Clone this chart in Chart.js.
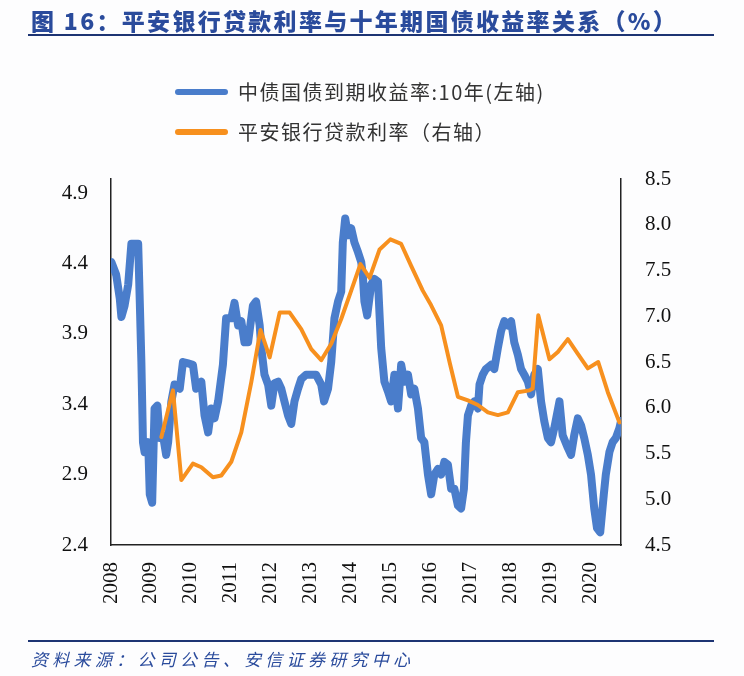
<!DOCTYPE html>
<html>
<head>
<meta charset="utf-8">
<script src="https://cdn.jsdelivr.net/npm/chart.js@4/dist/chart.umd.min.js"></script>
<style>
  html, body { margin: 0; padding: 0; background: #ffffff; }
  #wrap { position: relative; width: 744px; height: 676px; overflow: hidden; background: #fdfdfe; }
  #c { position: absolute; left: 0; top: 0; }
  #title { position: absolute; left: 31px; top: 5px; font-family: "Noto Sans CJK SC", sans-serif; font-weight: 900; font-size: 23px; letter-spacing: 2.3px; color: #2a4b9c; white-space: nowrap; line-height: 30px; }
  #tline { position: absolute; left: 28px; top: 34px; width: 686px; height: 2px; background: #1d3473; }
  #fline { position: absolute; left: 28px; top: 640px; width: 686px; height: 2px; background: #1d3473; }
  #source { position: absolute; left: 31px; top: 647px; font-family: "Noto Sans CJK SC", sans-serif; font-style: italic; font-size: 17px; letter-spacing: 4.3px; color: #2a4b9c; white-space: nowrap; line-height: 24px; }
  .leg { position: absolute; left: 175px; height: 30px; font-family: "Noto Sans CJK SC", sans-serif; font-size: 20px; letter-spacing: 1.5px; color: #333; white-space: nowrap; line-height: 30px; }
  .sw { position: absolute; left: 0; top: 12px; width: 53px; height: 6px; border-radius: 3px; }
  .lt { position: absolute; left: 63px; top: 0; }
</style>
</head>
<body>
<div id="wrap">
  <canvas id="c" width="744" height="676"></canvas>
  <div id="title">图 16：平安银行贷款利率与十年期国债收益率关系（%）</div>
  <div id="tline"></div>
  <div id="legend"></div>
  <div id="fline"></div>
  <div id="source">资料来源：公司公告、安信证券研究中心</div>
</div>
<script>
// ---- data ----
const seriesNames = ["中债国债到期收益率:10年(左轴)", "平安银行贷款利率（右轴）"];
const seriesColors = ["#4a7dcb", "#f7901e"];

const yearTicks = [2008, 2009, 2010, 2011, 2012, 2013, 2014, 2015, 2016, 2017, 2018, 2019, 2020];
const leftTicks = [2.4, 2.9, 3.4, 3.9, 4.4, 4.9];
const rightTicks = [4.5, 5.0, 5.5, 6.0, 6.5, 7.0, 7.5, 8.0, 8.5];

const bondDates = [
  2008.01, 2008.13, 2008.22, 2008.26, 2008.34, 2008.43, 2008.51, 2008.68, 2008.72, 2008.76,
  2008.80, 2008.84, 2008.93, 2008.97, 2009.03, 2009.09, 2009.16, 2009.22, 2009.30, 2009.38,
  2009.43, 2009.51, 2009.59, 2009.72, 2009.80, 2009.93, 2010.05, 2010.13, 2010.26, 2010.34,
  2010.43, 2010.51, 2010.59, 2010.68, 2010.80, 2010.88, 2011.01, 2011.09, 2011.18, 2011.26,
  2011.34, 2011.43, 2011.55, 2011.63, 2011.72, 2011.76, 2011.84, 2011.93, 2012.01, 2012.09,
  2012.18, 2012.26, 2012.34, 2012.43, 2012.51, 2012.59, 2012.68, 2012.76, 2012.88, 2013.01,
  2013.13, 2013.26, 2013.33, 2013.43, 2013.51, 2013.59, 2013.68, 2013.76, 2013.80, 2013.86,
  2013.93, 2014.01, 2014.09, 2014.18, 2014.26, 2014.30, 2014.34, 2014.41, 2014.51, 2014.59,
  2014.68, 2014.72, 2014.76, 2014.84, 2014.93, 2015.01, 2015.09, 2015.18, 2015.26, 2015.34,
  2015.43, 2015.51, 2015.59, 2015.68, 2015.76, 2015.84, 2015.93, 2016.01, 2016.09, 2016.18,
  2016.26, 2016.34, 2016.43, 2016.51, 2016.59, 2016.68, 2016.76, 2016.83, 2016.88, 2016.93,
  2017.01, 2017.09, 2017.18, 2017.22, 2017.30, 2017.38, 2017.51, 2017.59, 2017.68, 2017.76,
  2017.84, 2017.93, 2018.01, 2018.09, 2018.18, 2018.26, 2018.34, 2018.43, 2018.51, 2018.59,
  2018.68, 2018.76, 2018.84, 2018.93, 2019.01, 2019.09, 2019.22, 2019.30, 2019.43, 2019.51,
  2019.59, 2019.68, 2019.76, 2019.84, 2019.93, 2020.01, 2020.09, 2020.16, 2020.24, 2020.33,
  2020.38, 2020.47, 2020.55, 2020.63, 2020.72, 2020.76
];
const bondYields = [
  4.41, 4.32, 4.15, 4.02, 4.10, 4.25, 4.54, 4.54, 4.13, 3.70,
  3.13, 3.06, 3.13, 2.76, 2.70, 3.37, 3.39, 3.16, 3.18, 3.04,
  3.13, 3.42, 3.54, 3.51, 3.70, 3.69, 3.68, 3.51, 3.56, 3.32,
  3.20, 3.37, 3.30, 3.42, 3.68, 4.01, 4.01, 4.12, 3.96, 3.99,
  3.84, 3.84, 4.10, 4.13, 3.96, 3.80, 3.61, 3.54, 3.39, 3.55,
  3.56, 3.51, 3.42, 3.32, 3.26, 3.42, 3.51, 3.58, 3.61, 3.61,
  3.61, 3.54, 3.42, 3.51, 3.70, 4.01, 4.13, 4.20, 4.55, 4.72,
  4.60, 4.65, 4.55, 4.48, 4.41, 4.32, 4.13, 4.03, 4.25, 4.29,
  4.27, 4.03, 3.80, 3.56, 3.49, 3.42, 3.61, 3.37, 3.68, 3.56,
  3.61, 3.47, 3.51, 3.37, 3.16, 3.13, 2.90, 2.76, 2.90, 2.94,
  2.90, 2.99, 2.97, 2.80, 2.80, 2.68, 2.66, 2.80, 3.13, 3.32,
  3.39, 3.42, 3.37, 3.54, 3.61, 3.65, 3.68, 3.65, 3.80, 3.92,
  3.99, 3.96, 3.99, 3.84, 3.75, 3.65, 3.61, 3.56, 3.47, 3.61,
  3.65, 3.42, 3.28, 3.16, 3.13, 3.23, 3.42, 3.18, 3.09, 3.04,
  3.18, 3.30, 3.25, 3.16, 3.04, 2.90, 2.66, 2.52, 2.49, 2.76,
  2.90, 3.06, 3.13, 3.16, 3.23, 3.28
];

const loanDates = [
  2009.26, 2009.55, 2009.76, 2010.05, 2010.26, 2010.55, 2010.76, 2011.01, 2011.26, 2011.51,
  2011.74, 2011.97, 2012.22, 2012.47, 2012.76, 2013.01, 2013.26, 2013.51, 2013.76, 2014.01,
  2014.24, 2014.47, 2014.72, 2014.99, 2015.26, 2015.51, 2015.80, 2016.01, 2016.26, 2016.47,
  2016.68, 2016.93, 2017.18, 2017.43, 2017.68, 2017.93, 2018.18, 2018.47, 2018.55, 2018.69,
  2018.97, 2019.18, 2019.43, 2019.68, 2019.93, 2020.19, 2020.43, 2020.72
];
const loanRates = [
  5.68, 6.19, 5.21, 5.39, 5.35, 5.24, 5.26, 5.41, 5.73, 6.28,
  6.85, 6.55, 7.04, 7.04, 6.86, 6.64, 6.52, 6.70, 6.97, 7.28,
  7.57, 7.42, 7.73, 7.84, 7.79, 7.55, 7.28, 7.12, 6.90, 6.50,
  6.12, 6.08, 6.03, 5.95, 5.92, 5.95, 6.17, 6.19, 6.21, 7.01,
  6.53, 6.61, 6.75, 6.59, 6.43, 6.50, 6.17, 5.84
];

// ---- legend (HTML) ----
const legendEl = document.getElementById('legend');
seriesNames.forEach((name, i) => {
  const row = document.createElement('div');
  row.className = 'leg';
  row.style.top = (77 + i * 40) + 'px';
  const sw = document.createElement('div');
  sw.className = 'sw';
  sw.style.background = seriesColors[i];
  const t = document.createElement('div');
  t.className = 'lt';
  t.textContent = name;
  row.appendChild(sw); row.appendChild(t);
  legendEl.appendChild(row);
});

const tickFont = { family: '"Liberation Serif", "Times New Roman", serif', size: 21 };
const borderCfg = { display: true, color: '#222', width: 1.5 };

new Chart(document.getElementById('c'), {
  type: 'line',
  data: {
    datasets: [
      {
        label: seriesNames[0],
        data: bondDates.map((d, i) => ({ x: d, y: bondYields[i] })),
        yAxisID: 'yL',
        borderColor: seriesColors[0],
        borderWidth: 8,
        pointRadius: 0,
        tension: 0,
        borderJoinStyle: 'round',
        borderCapStyle: 'round',
        order: 2
      },
      {
        label: seriesNames[1],
        data: loanDates.map((d, i) => ({ x: d, y: loanRates[i] })),
        yAxisID: 'yR',
        borderColor: seriesColors[1],
        borderWidth: 4,
        pointRadius: 0,
        tension: 0,
        borderJoinStyle: 'round',
        borderCapStyle: 'round',
        order: 1
      }
    ]
  },
  options: {
    responsive: false,
    animation: false,
    layout: { padding: { top: 179, left: 0, right: 0, bottom: 0 } },
    plugins: { legend: { display: false }, tooltip: { enabled: false } },
    scales: {
      x: {
        type: 'linear',
        min: 2008,
        max: 2020.76,
        grid: { display: false, drawTicks: false },
        border: borderCfg,
        afterBuildTicks: s => { s.ticks = yearTicks.map(v => ({ value: v })); },
        afterFit: s => { s.height = 131; },
        ticks: {
          autoSkip: false,
          minRotation: 90,
          maxRotation: 90,
          padding: 17,
          color: '#111',
          font: tickFont,
          callback: v => String(v)
        }
      },
      yL: {
        type: 'linear',
        position: 'left',
        min: 2.4,
        max: 5.0,
        grid: { display: false, drawTicks: false },
        border: borderCfg,
        afterBuildTicks: s => { s.ticks = leftTicks.map(v => ({ value: v })); },
        afterFit: s => { s.width = 111; },
        ticks: { padding: 23, color: '#111', font: tickFont, callback: v => Number(v).toFixed(1) }
      },
      yR: {
        type: 'linear',
        position: 'right',
        min: 4.5,
        max: 8.5,
        grid: { display: false, drawTicks: false },
        border: borderCfg,
        afterBuildTicks: s => { s.ticks = rightTicks.map(v => ({ value: v })); },
        afterFit: s => { s.width = 123; },
        ticks: { padding: 24, color: '#111', font: tickFont, callback: v => Number(v).toFixed(1) }
      }
    }
  }
});
</script>
</body>
</html>
